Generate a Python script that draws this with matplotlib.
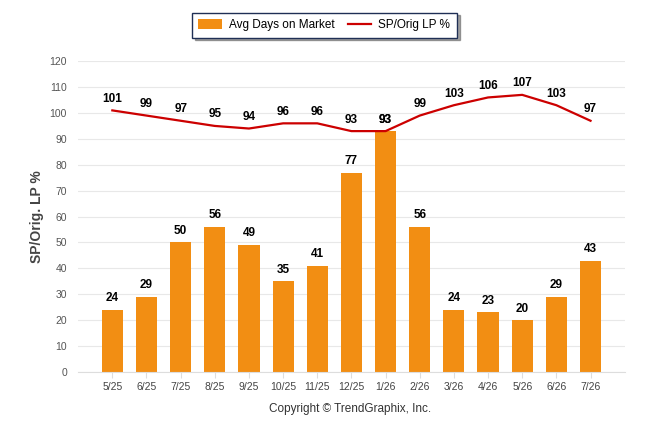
import numpy as np
import matplotlib
matplotlib.use('Agg')
import matplotlib.pyplot as plt

# ── Data ─────────────────────────────────────────────────────────────────────
months    = ['5/25', '6/25', '7/25', '8/25', '9/25', '10/25', '11/25', '12/25',
             '1/26', '2/26', '3/26', '4/26', '5/26', '6/26', '7/26']
avg_days  = [24, 29, 50, 56, 49, 35, 41, 77, 93, 56, 24, 23, 20, 29, 43]
sp_orig   = [101, 99, 97, 95, 94, 96, 96, 93, 93, 99, 103, 106, 107, 103, 97]
y_ticks   = list(range(0, 121, 10))

BAR_COLOR  = '#F28E13'
LINE_COLOR = '#CC0000'

plt.rcParams.update({'font.family': ['Liberation Sans', 'DejaVu Sans']})

fig = plt.figure(figsize=(6.46, 4.34), dpi=100)
ax = fig.add_axes([0.121, 0.143, 0.846, 0.716])

x = np.arange(len(months))
bars = ax.bar(x, avg_days, width=0.62, color=BAR_COLOR, zorder=2,
              label='Avg Days on Market')
line, = ax.plot(x, sp_orig, color=LINE_COLOR, linewidth=1.6, zorder=3,
                label='SP/Orig LP %')

# value labels (bar and line share the same offset, so 1/26 overlaps like the original)
for xi, v in zip(x, avg_days):
    ax.annotate(str(v), (xi, v), xytext=(0, 4), textcoords='offset points',
                ha='center', va='bottom', fontsize=8.5, fontweight='bold',
                color='black', zorder=4)
for xi, v in zip(x, sp_orig):
    ax.annotate(str(v), (xi, v), xytext=(0, 4), textcoords='offset points',
                ha='center', va='bottom', fontsize=8.5, fontweight='bold',
                color='black', zorder=4)

ax.set_xlim(-1, len(months))
ax.set_ylim(0, 120)
ax.set_xticks(x)
ax.set_xticklabels(months)
ax.set_yticks(y_ticks)
ax.tick_params(axis='x', length=4, color='#dddddd', labelsize=7.5,
               labelcolor='#444444', pad=3)
ax.tick_params(axis='y', length=0, labelsize=7.5, labelcolor='#555555', pad=8)
ax.grid(axis='y', color='#e8e8e8', linewidth=0.8, zorder=0)

for side in ['top', 'right', 'left']:
    ax.spines[side].set_visible(False)
ax.spines['bottom'].set_color('#dddddd')

ax.set_ylabel('SP/Orig. LP %', fontsize=10, fontweight='bold',
              color='#444444', labelpad=4)

leg = fig.legend([bars, line], ['Avg Days on Market', 'SP/Orig LP %'],
                 loc='center', bbox_to_anchor=(0.502, 0.942), ncol=2,
                 frameon=True, fancybox=False, shadow=True, fontsize=8.5,
                 handlelength=2.0, handleheight=0.9, handletextpad=0.6,
                 columnspacing=1.1, borderpad=0.55)
leg.get_frame().set_edgecolor('#1f2f55')
leg.get_frame().set_linewidth(1.0)

fig.text(0.542, 0.058, 'Copyright \u00a9 TrendGraphix, Inc.', ha='center',
         va='center', fontsize=8.5, color='#333333')

fig.savefig('out.png', dpi=100)
